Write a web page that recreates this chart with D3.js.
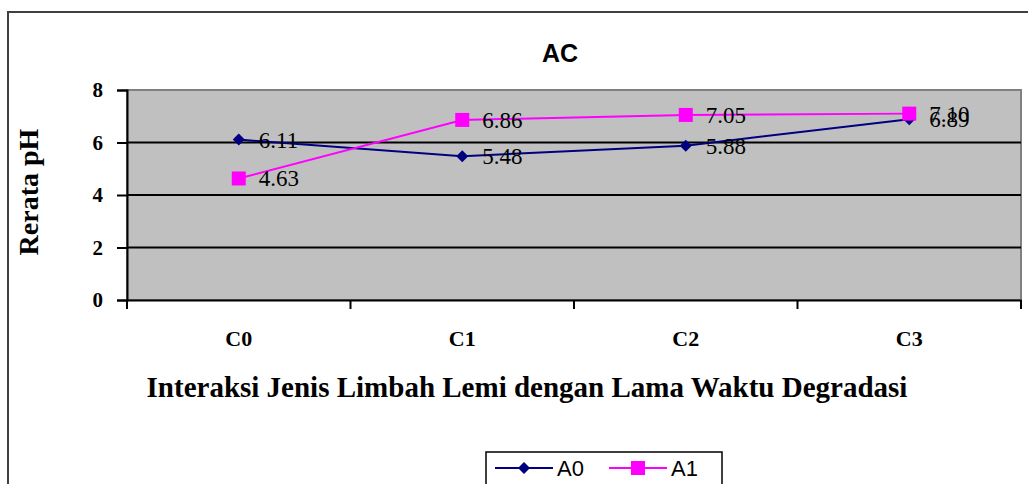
<!DOCTYPE html>
<html>
<head>
<meta charset="utf-8">
<script src="https://cdn.jsdelivr.net/npm/d3@7"></script>
<style>
  html, body { margin: 0; padding: 0; background: #fff; }
  svg { display: block; }
</style>
</head>
<body>
<svg id="chart" width="1028" height="484"></svg>
<script>
// Mean pH per treatment combination
const categories = ["C0", "C1", "C2", "C3"];
const seriesNames = ["A0", "A1"];
const valuesA0 = [6.11, 5.48, 5.88, 6.89];
const valuesA1 = [4.63, 6.86, 7.05, 7.10];
const yTicks = [0, 2, 4, 6, 8];

const chartTitle = "AC";
const yTitle = "Rerata pH";
const xTitle = "Interaksi Jenis Limbah Lemi dengan Lama Waktu Degradasi";

const svg = d3.select("#chart");
const plot = { left: 127, right: 1021, top: 90, bottom: 300 };

// outer frame
svg.append("rect")
  .attr("x", 8).attr("y", 12)
  .attr("width", 1040).attr("height", 500)
  .attr("fill", "#fff").attr("stroke", "#404040").attr("stroke-width", 2);

const x = d3.scaleBand().domain(categories).range([plot.left, plot.right]);
const y = d3.scaleLinear().domain([0, 8]).range([plot.bottom, plot.top]);

// plot area
svg.append("rect")
  .attr("x", plot.left).attr("y", plot.top)
  .attr("width", plot.right - plot.left).attr("height", plot.bottom - plot.top)
  .attr("fill", "#c0c0c0").attr("stroke", "#808080").attr("stroke-width", 2);

// gridlines
svg.append("g")
  .selectAll("line")
  .data(yTicks.filter(t => t > 0 && t < 8))
  .join("line")
  .attr("x1", plot.left).attr("x2", plot.right)
  .attr("y1", d => y(d)).attr("y2", d => y(d))
  .attr("stroke", "#000").attr("stroke-width", 2);

// y axis
const yAxis = svg.append("g")
  .attr("transform", `translate(${plot.left},0)`)
  .call(d3.axisLeft(y).tickValues(yTicks).tickSize(10).tickPadding(14).tickFormat(d3.format("d")));
yAxis.select(".domain").attr("stroke", "#000").attr("stroke-width", 2);
yAxis.selectAll(".tick line").attr("stroke", "#000").attr("stroke-width", 2);
yAxis.selectAll(".tick text")
  .attr("font-family", "'Liberation Serif', 'Times New Roman', serif")
  .attr("font-weight", "bold").attr("font-size", 21).attr("fill", "#000");

// x axis: ticks at category boundaries
const xAxis = svg.append("g")
  .attr("transform", `translate(0,${plot.bottom})`)
  .call(d3.axisBottom(x).tickSize(0).tickPadding(30));
xAxis.select(".domain").attr("stroke", "#000").attr("stroke-width", 2);
xAxis.selectAll(".tick text")
  .attr("font-family", "'Liberation Serif', 'Times New Roman', serif")
  .attr("font-weight", "bold").attr("font-size", 22).attr("fill", "#000");
const boundaries = categories.map(c => x(c)).concat([x(categories[categories.length - 1]) + x.bandwidth()]);
xAxis.selectAll(".bound")
  .data(boundaries)
  .join("line")
  .attr("class", "bound")
  .attr("x1", d => d).attr("x2", d => d)
  .attr("y1", 0).attr("y2", 9)
  .attr("stroke", "#000").attr("stroke-width", 2);

// series: diamond = square turned 45 degrees
const series = [
  { name: seriesNames[0], values: valuesA0, color: "#000080", shape: d3.symbolSquare, size: 72, rot: 45 },
  { name: seriesNames[1], values: valuesA1, color: "#ff00ff", shape: d3.symbolSquare, size: 196, rot: 0 }
];
const cx = c => x(c) + x.bandwidth() / 2;
const line = d3.line().x((d, i) => cx(categories[i])).y(d => y(d));

series.forEach(s => {
  const g = svg.append("g");
  g.append("path")
    .datum(s.values)
    .attr("d", line)
    .attr("fill", "none").attr("stroke", s.color).attr("stroke-width", 2);
  g.selectAll("path.mark")
    .data(s.values)
    .join("path")
    .attr("class", "mark")
    .attr("transform", (d, i) => `translate(${cx(categories[i])},${y(d)}) rotate(${s.rot})`)
    .attr("d", d3.symbol().type(s.shape).size(s.size))
    .attr("fill", s.color);
});

// value labels
series.forEach(s => {
  svg.append("g").selectAll("text")
    .data(s.values)
    .join("text")
    .attr("x", (d, i) => cx(categories[i]) + 20)
    .attr("y", d => y(d) + 8)
    .attr("font-family", "'Liberation Serif', 'Times New Roman', serif")
    .attr("font-size", 23).attr("fill", "#000")
    .text(d => d.toFixed(2));
});

// titles
svg.append("text")
  .attr("x", 560).attr("y", 62)
  .attr("text-anchor", "middle")
  .attr("font-family", "'Liberation Sans', Arial, sans-serif")
  .attr("font-weight", "bold").attr("font-size", 25)
  .text(chartTitle);

svg.append("text")
  .attr("transform", "translate(38,192) rotate(-90)")
  .attr("text-anchor", "middle")
  .attr("font-family", "'Liberation Serif', 'Times New Roman', serif")
  .attr("font-weight", "bold").attr("font-size", 28)
  .text(yTitle);

svg.append("text")
  .attr("x", 527).attr("y", 397)
  .attr("text-anchor", "middle")
  .attr("font-family", "'Liberation Serif', 'Times New Roman', serif")
  .attr("font-weight", "bold").attr("font-size", 29)
  .text(xTitle);

// legend
const legend = svg.append("g");
legend.append("rect")
  .attr("x", 486).attr("y", 452)
  .attr("width", 236).attr("height", 50)
  .attr("fill", "#fff").attr("stroke", "#000").attr("stroke-width", 1.5);
const legendX = [495, 609];
series.forEach((s, i) => {
  const lx = legendX[i];
  const ly = 468;
  legend.append("line")
    .attr("x1", lx).attr("x2", lx + 58)
    .attr("y1", ly).attr("y2", ly)
    .attr("stroke", s.color).attr("stroke-width", 2);
  legend.append("path")
    .attr("transform", `translate(${lx + 29},${ly}) rotate(${s.rot})`)
    .attr("d", d3.symbol().type(s.shape).size(s.size))
    .attr("fill", s.color);
  legend.append("text")
    .attr("x", lx + 62).attr("y", ly + 8)
    .attr("font-family", "'Liberation Sans', Arial, sans-serif")
    .attr("font-size", 22)
    .text(s.name);
});
</script>
</body>
</html>
